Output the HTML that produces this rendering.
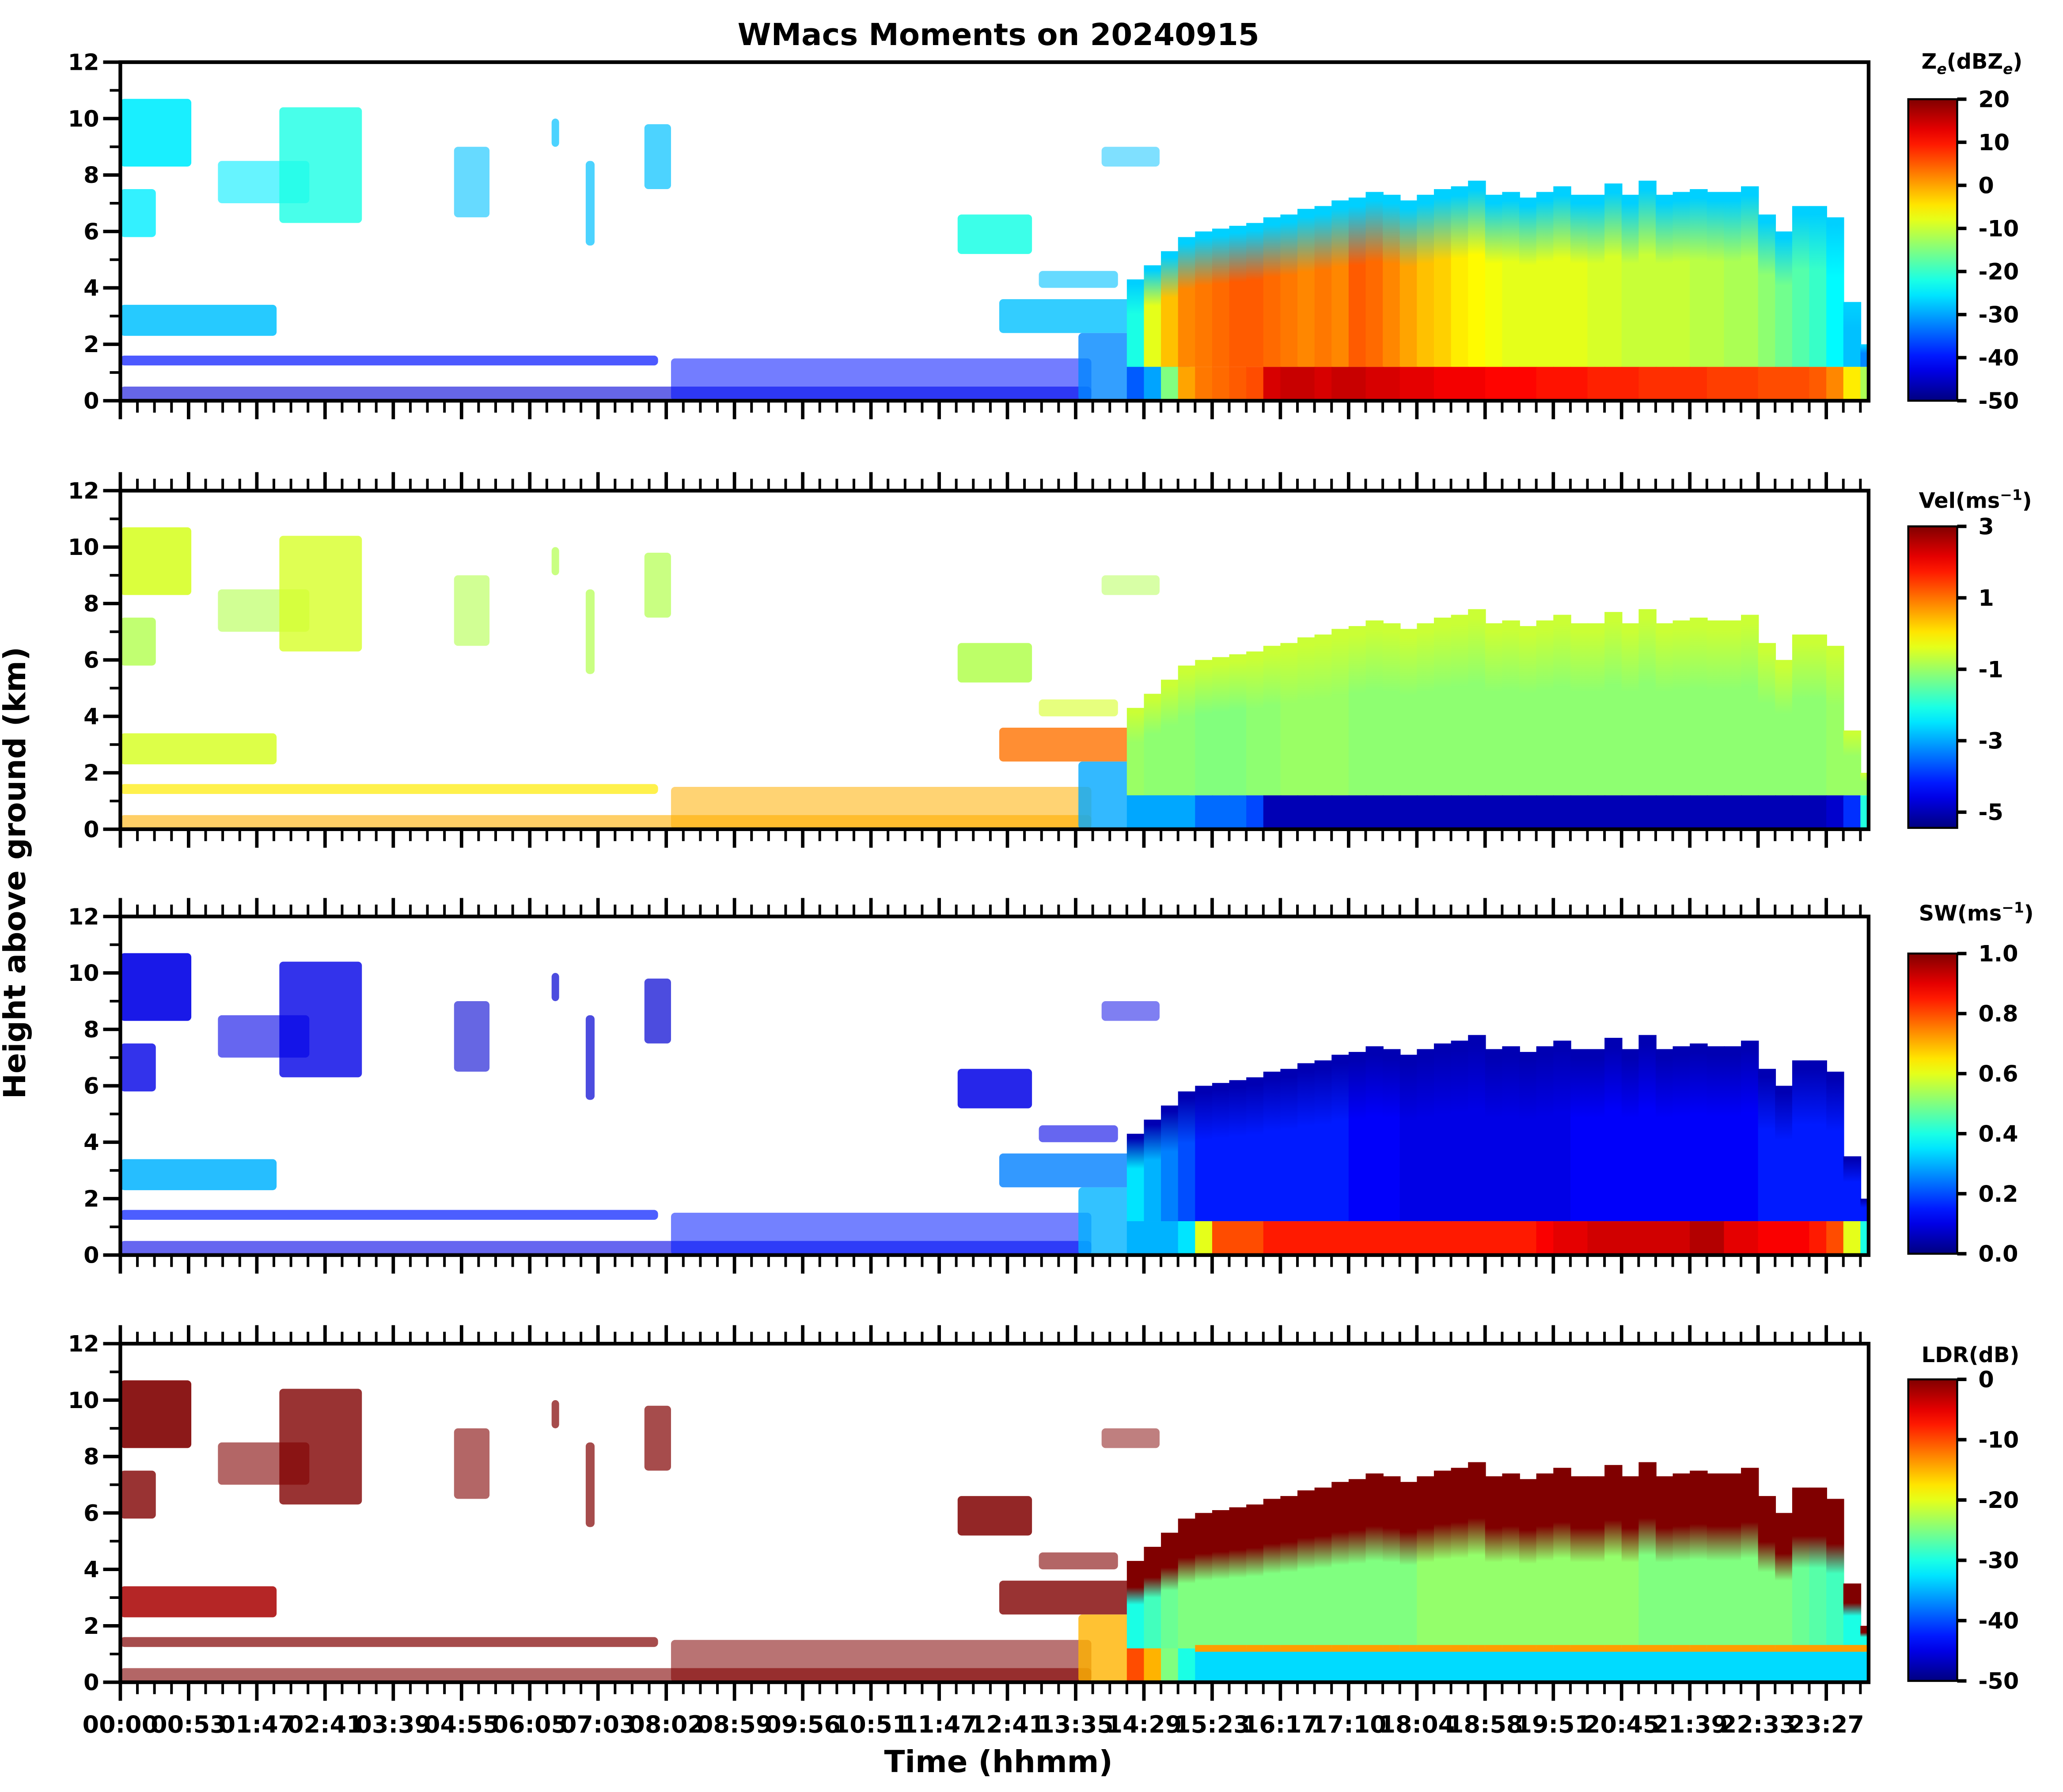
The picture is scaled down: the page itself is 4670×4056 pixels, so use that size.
<!DOCTYPE html>
<html><head><meta charset="utf-8"><title>WMacs Moments on 20240915</title>
<style>html,body{margin:0;padding:0;background:#fff}svg{display:block}
text{font-family:"DejaVu Sans","Liberation Sans",sans-serif;font-weight:bold;fill:#000}</style></head>
<body>
<svg id="fig" xmlns="http://www.w3.org/2000/svg" width="4670" height="4056" viewBox="0 0 1560 1355" preserveAspectRatio="none">
<defs id="defs"></defs>
<text x="755" y="34" text-anchor="middle" font-size="23">WMacs Moments on 20240915</text>
<text transform="translate(19,660) rotate(-90)" text-anchor="middle" font-size="23">Height above ground (km)</text>
<text x="755" y="1340" text-anchor="middle" font-size="23">Time (hhmm)</text>
<text x="1453" y="52" font-size="16">Z<tspan font-size="11" font-style="italic" dy="4">e</tspan><tspan dy="-4">(dBZ</tspan><tspan font-size="11" font-style="italic" dy="4">e</tspan><tspan dy="-4">)</tspan></text>
<text x="1451" y="384" font-size="16">Vel(ms<tspan font-size="11" dy="-6">−1</tspan><tspan dy="6">)</tspan></text>
<text x="1451" y="696" font-size="16">SW(ms<tspan font-size="11" dy="-6">−1</tspan><tspan dy="6">)</tspan></text>
<text x="1453" y="1030" font-size="16">LDR(dB)</text>
<g id="layers"></g>
</svg>
<script>
// ---- data ----
const timeLabels = ["00:00","00:53","01:47","02:41","03:39","04:55","06:05","07:03","08:02","08:59","09:56","10:51","11:47","12:41","13:35","14:29","15:23","16:17","17:10","18:04","18:58","19:51","20:45","21:39","22:33","23:27"];
const heightTicks = [0,2,4,6,8,10,12];
const zeTicks = [20,10,0,-10,-20,-30,-40,-50];
const velTicks = [3,1,-1,-3,-5];
const swTicks = [1.0,0.8,0.6,0.4,0.2,0.0];
const ldrTicks = [0,-10,-20,-30,-40,-50];
// isolated cloud / echo regions (time in label-index units, heights km)
const blobT0 = [0,0,1.43,2.33,4.89,6.32,6.82,7.68,12.27,13.46,14.38,0,0,0,8.07,12.88,14.04];
const blobT1 = [1.04,0.52,2.77,3.54,5.41,6.43,6.95,8.07,13.36,14.62,15.23,2.29,7.88,14.23,14.23,15.0,15.67];
const blobBase = [8.3,5.8,7.0,6.3,6.5,9.0,5.5,7.5,5.2,4.0,8.3,2.3,1.25,0,0,2.4,0];
const blobTop = [10.7,7.5,8.5,10.4,9.0,10.0,8.5,9.8,6.6,4.6,9.0,3.4,1.6,0.5,1.5,3.6,2.4];
const blobZe = [-25,-25,-25,-22,-28,-28,-28,-28,-22,-28,-28,-28,-40,-44,-40,-28,-32];
const blobVel = [-0.5,-0.8,-0.8,-0.5,-0.8,-0.8,-0.8,-0.8,-0.8,-0.5,-0.8,-0.5,0,0.5,0.5,1,-3];
const blobSW = [0.1,0.1,0.1,0.1,0.08,0.08,0.08,0.08,0.1,0.1,0.1,0.3,0.15,0.1,0.15,0.25,0.3];
const blobLDR = [0,0,0,0,0,0,0,0,0,0,0,-2,0,0,0,0,-15];
const blobCover = [0.9,0.8,0.6,0.8,0.6,0.7,0.7,0.7,0.85,0.6,0.5,0.85,0.7,0.6,0.55,0.8,0.8];
// main precipitating system, bins of 0.25 label-index starting at 14.75
const sysStart = 14.75, sysStep = 0.25;
const sysTop = [4.3,4.8,5.3,5.8,6.0,6.1,6.2,6.3,6.5,6.6,6.8,6.9,7.1,7.2,7.4,7.3,7.1,7.3,7.5,7.6,7.8,7.3,7.4,7.2,7.4,7.6,7.3,7.3,7.7,7.3,7.8,7.3,7.4,7.5,7.4,7.4,7.6,6.6,6.0,6.9,6.9,6.5,3.5,2.0];
const zeCore = [-22,-8,-2,2,3,4,5,5,4,3,2,3,2,5,4,2,0,-2,-3,-5,-6,-7,-8,-8,-8,-8,-8,-9,-9,-10,-10,-10,-10,-11,-11,-12,-12,-14,-16,-18,-20,-24,-28,-32];
const zeRain = [-35,-30,-15,0,3,4,5,6,14,15,15,14,15,15,14,14,13,13,12,12,12,11,11,11,10,10,10,9,9,9,8,8,8,8,7,7,7,6,6,6,5,2,-5,-12];
const velCore = [-1.0,-1.1,-1.1,-1.1,-1.2,-1.2,-1.2,-1.1,-1.1,-1.0,-1.0,-1.0,-1.0,-1.1,-1.1,-1.1,-1.1,-1.1,-1.1,-1.1,-1.1,-1.1,-1.1,-1.1,-1.1,-1.1,-1.1,-1.1,-1.1,-1.1,-1.1,-1.1,-1.1,-1.1,-1.1,-1.1,-1.1,-1.1,-1.1,-1.1,-1.1,-1.0,-1.0,-1.0];
const velRain = [-3,-3,-3,-3,-3.5,-3.5,-3.5,-3.8,-5,-5,-5,-5,-5,-5,-5,-5,-5,-5,-5,-5,-5,-5,-5,-5,-5,-5,-5,-5,-5,-5,-5,-5,-5,-5,-5,-5,-5,-5,-5,-5,-5,-4.8,-4,-2];
const swCore = [0.35,0.3,0.25,0.2,0.15,0.15,0.15,0.15,0.15,0.15,0.15,0.15,0.15,0.12,0.12,0.12,0.1,0.1,0.1,0.1,0.1,0.1,0.1,0.1,0.1,0.1,0.12,0.12,0.12,0.12,0.12,0.12,0.12,0.12,0.12,0.12,0.12,0.15,0.15,0.15,0.15,0.15,0.15,0.15];
const swRain = [0.3,0.3,0.3,0.35,0.6,0.8,0.8,0.8,0.85,0.85,0.85,0.85,0.85,0.85,0.85,0.85,0.85,0.85,0.85,0.85,0.85,0.85,0.85,0.85,0.88,0.9,0.9,0.92,0.92,0.92,0.92,0.92,0.92,0.95,0.95,0.9,0.9,0.88,0.88,0.88,0.85,0.8,0.6,0.4];
const ldrCore = [-30,-28,-26,-25,-25,-25,-25,-25,-25,-25,-25,-25,-25,-25,-25,-25,-25,-24,-24,-24,-24,-24,-24,-24,-24,-24,-24,-24,-24,-24,-25,-25,-25,-25,-25,-25,-25,-25,-25,-26,-27,-28,-30,-30];
const ldrRain = [-10,-15,-25,-30,-33,-33,-33,-33,-33,-33,-33,-33,-33,-33,-33,-33,-33,-33,-33,-33,-33,-33,-33,-33,-33,-33,-33,-33,-33,-33,-33,-33,-33,-33,-33,-33,-33,-33,-33,-33,-33,-33,-33,-33];
const meltHeight = 1.2;

// ---- layout ----
const NS = "http://www.w3.org/2000/svg";
const PX0 = 91, PX1 = 1413, TICKSP = 51.6;
const panelTop = [47,371,693,1016], PH = 256;
const cbX0 = 1443, cbX1 = 1480;
const cbTop = [75,398,721,1043], cbBot = [303,626,948,1271];
const vmin = [-50,-5.44,0,-50], vmax = [20,3,1,0];
const cbTicks = [zeTicks, velTicks, swTicks, ldrTicks];
const panelNames = ["reflectivity","velocity","spectrum-width","ldr"];
const fmt = [v=>String(v), v=>String(v), v=>v.toFixed(1), v=>String(v)];
function X(t){ return PX0 + t*TICKSP; }
function Y(p,km){ return panelTop[p] + PH - km/12*PH; }
function cl(v){ return Math.max(0, Math.min(1, v)); }
function jet(t){ t = cl(t);
  const r = cl(1.5 - Math.abs(4*t-3)), g = cl(1.5 - Math.abs(4*t-2)), b = cl(1.5 - Math.abs(4*t-1));
  return "rgb(" + Math.round(r*255) + "," + Math.round(g*255) + "," + Math.round(b*255) + ")"; }
function col(p,v){ return jet((v - vmin[p])/(vmax[p]-vmin[p])); }
function mk(tag, attrs, parent){ const e = document.createElementNS(NS, tag);
  for (const k in attrs) e.setAttribute(k, attrs[k]); parent.appendChild(e); return e; }
const root = document.getElementById("layers");
const defs = document.getElementById("defs");
const blobVals = [blobZe, blobVel, blobSW, blobLDR];
const coreVals = [zeCore, velCore, swCore, ldrCore];
const rainVals = [zeRain, velRain, swRain, ldrRain];
const edgeVals = [-27, -0.6, 0.05, 0];
let gid = 0;

for (let p = 0; p < 4; p++) {
  const g = mk("g", {}, root);
  
  
  const clipId = "clip" + p;
  const cp = mk("clipPath", {id: clipId}, defs);
  mk("rect", {x: PX0, y: panelTop[p], width: PX1-PX0, height: PH}, cp);
  const data = mk("g", {"clip-path": "url(#" + clipId + ")"}, g);
  
  
  for (let i = 0; i < blobT0.length; i++) {
    const r = mk("rect", {x: X(blobT0[i]), y: Y(p, blobTop[i]), width: X(blobT1[i]) - X(blobT0[i]),
      height: Y(p, blobBase[i]) - Y(p, blobTop[i]), rx: 3, fill: col(p, blobVals[p][i]), "fill-opacity": blobCover[i]}, data);
    
    
  }
  for (let i = 0; i < sysTop.length; i++) {
    const t = sysStart + i*sysStep;
    const x = X(t), w = TICKSP*sysStep + 0.6;
    const id = "sg" + (gid++);
    const lg = mk("linearGradient", {id: id, x1: 0, y1: 0, x2: 0, y2: 1}, defs);
    const edge = col(p, edgeVals[p]), core = col(p, coreVals[p][i]);
    const e1 = p === 3 ? 0.3 : 0.05, c1 = p === 3 ? 0.5 : 0.4;
    mk("stop", {offset: 0, "stop-color": edge}, lg);
    mk("stop", {offset: e1, "stop-color": edge}, lg);
    mk("stop", {offset: c1, "stop-color": core}, lg);
    mk("stop", {offset: 1, "stop-color": core}, lg);
    const top = sysTop[i];
    const base = Math.min(meltHeight, top);
    const up = mk("rect", {x: x, y: Y(p, top), width: w, height: Y(p, base) - Y(p, top), fill: "url(#" + id + ")"}, data);
    
    
    const rn = mk("rect", {x: x, y: Y(p, base), width: w, height: Y(p, 0) - Y(p, base), fill: col(p, rainVals[p][i])}, data);
    
    
    if (p === 3 && i >= 4) {
      const ml = mk("rect", {x: x, y: Y(p, meltHeight + 0.12), width: w, height: Y(p, meltHeight - 0.12) - Y(p, meltHeight + 0.12), fill: col(p, -14)}, data);
      
      
    }
  }
  const fr = mk("rect", {x: PX0, y: panelTop[p], width: PX1-PX0, height: PH, fill: "none", stroke: "#000", "stroke-width": 2.8}, g);
  
  
  for (let k = 0; k <= 12; k++) {
    const y = Y(p, k), major = k % 2 === 0;
    const tk = mk("line", {x1: PX0 - (major ? 13 : 8), x2: PX0, y1: y, y2: y, stroke: "#000", "stroke-width": major ? 2.6 : 2}, g);
    
    
  }
  for (const h of heightTicks) {
    const tl = mk("text", {x: PX0 - 16, y: Y(p, h) + 6, "text-anchor": "end", "font-size": 17}, g);
    tl.textContent = h;
    
    
  }
  for (let k = 0; X(k/4) <= PX1 + 0.5; k++) {
    const x = X(k/4), major = k % 4 === 0;
    const len = major ? 14 : 9;
    const yb = panelTop[p] + PH;
    const tb = mk("line", {x1: x, x2: x, y1: yb, y2: yb + len, stroke: "#000", "stroke-width": major ? 2.6 : 2}, g);
    
    
    if (p > 0) {
      const tt = mk("line", {x1: x, x2: x, y1: panelTop[p] - len, y2: panelTop[p], stroke: "#000", "stroke-width": major ? 2.6 : 2}, g);
      
      
    }
  }
  const cid = "cb" + p;
  const cg = mk("linearGradient", {id: cid, x1: 0, y1: 1, x2: 0, y2: 0}, defs);
  for (let s = 0; s <= 20; s++) mk("stop", {offset: s/20, "stop-color": jet(s/20)}, cg);
  const cb = mk("rect", {x: cbX0, y: cbTop[p], width: cbX1-cbX0, height: cbBot[p]-cbTop[p], fill: "url(#" + cid + ")", stroke: "#000", "stroke-width": 1.5}, g);
  
  
  for (const v of cbTicks[p]) {
    const y = cbBot[p] - (v - vmin[p])/(vmax[p]-vmin[p])*(cbBot[p]-cbTop[p]);
    const ct = mk("line", {x1: cbX1, x2: cbX1 + 7, y1: y, y2: y, stroke: "#000", "stroke-width": 2.6}, g);
    
    
    const cl2 = mk("text", {x: cbX1 + 16, y: y + 6, "font-size": 17}, g);
    cl2.textContent = fmt[p](v);
    
    
  }
}
for (let k = 0; k < timeLabels.length; k++) {
  const t = mk("text", {x: X(k), y: 1310, "text-anchor": "middle", "font-size": 18}, root);
  t.textContent = timeLabels[k];
  
  
}
</script>
</body></html>
